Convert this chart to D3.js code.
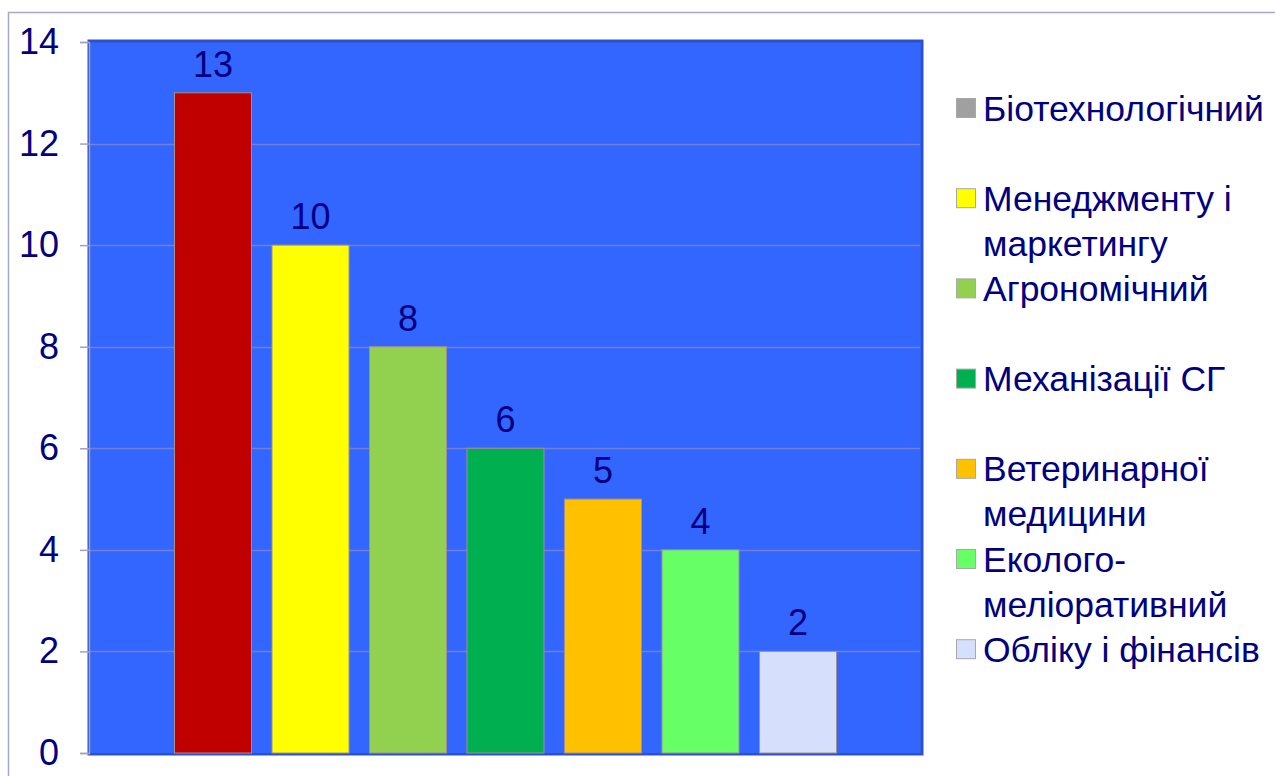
<!DOCTYPE html>
<html>
<head>
<meta charset="utf-8">
<script src="https://cdn.jsdelivr.net/npm/d3@7"></script>
<style>
  body { margin: 0; background: #fff; }
  svg { display: block; font-family: "Liberation Sans", Arial, sans-serif; }
</style>
</head>
<body>
<svg id="chart" width="1275" height="776"></svg>
<script>
// faculty names (legend order), bar values and colours
var faculties = ["Біотехнологічний", "Менеджменту і\nмаркетингу", "Агрономічний", "Механізації СГ",
                 "Ветеринарної\nмедицини", "Еколого-\nмеліоративний", "Обліку і фінансів"];
var values = [13, 10, 8, 6, 5, 4, 2];
var barColors = ["#C00000", "#FFFF00", "#92D050", "#00B050", "#FFC000", "#66FF66", "#D6E0FC"];
var legendColors = ["#A0A0A0", "#FFFF00", "#92D050", "#00B050", "#FFC000", "#66FF66", "#D6E0FC"];
var yTicks = [0, 2, 4, 6, 8, 10, 12, 14];

var svg = d3.select("#chart");
var textColor = "#000080";

var plot = { left: 89, right: 922, top: 42, bottom: 753 };

// outer frame of the chart object
svg.append("rect")
    .attr("x", 8.5).attr("y", 12.5)
    .attr("width", 1400).attr("height", 900)
    .attr("fill", "none")
    .attr("stroke", "#A8A8C8")
    .attr("stroke-width", 1.5);

var x = d3.scaleBand()
    .domain(d3.range(values.length))
    .range([plot.left, plot.right])
    .paddingInner(0.21)
    .paddingOuter(0.877);

var y = d3.scaleLinear()
    .domain([0, 14])
    .range([plot.bottom, plot.top]);

// plot background with darker rim
svg.append("rect")
    .attr("x", plot.left).attr("y", plot.top - 1)
    .attr("width", plot.right - plot.left).attr("height", plot.bottom - plot.top + 2)
    .attr("fill", "#3366FF")
    .attr("stroke", "#2E50C8")
    .attr("stroke-width", 3);
svg.append("rect")
    .attr("x", plot.left + 1.5).attr("y", plot.top + 1)
    .attr("width", plot.right - plot.left - 3).attr("height", plot.bottom - plot.top - 1)
    .attr("fill", "#3366FF");

// gridlines
svg.append("g").selectAll("line")
    .data(yTicks.filter(function(d){ return d > 0 && d < 14; }))
    .enter().append("line")
    .attr("x1", plot.left).attr("x2", plot.right - 2)
    .attr("y1", function(d){ return Math.round(y(d)) + 0.5; })
    .attr("y2", function(d){ return Math.round(y(d)) + 0.5; })
    .attr("stroke", "#6E80D8")
    .attr("stroke-width", 1.5);

// y axis
var yAxis = d3.axisLeft(y)
    .tickValues(yTicks)
    .tickSize(9)
    .tickPadding(21)
    .tickFormat(d3.format("d"));

var ay = svg.append("g")
    .attr("transform", "translate(" + plot.left + ",0)")
    .call(yAxis);
ay.select(".domain").attr("stroke", "#A0A0C4").attr("stroke-width", 1.5);
ay.selectAll(".tick line").attr("stroke", "#A0A0C4").attr("stroke-width", 1.5);
ay.selectAll(".tick text")
    .attr("fill", textColor)
    .style("font-size", "36px")
    .style("font-family", "Liberation Sans, Arial, sans-serif");

// bars
svg.append("g").selectAll("rect")
    .data(values)
    .enter().append("rect")
    .attr("x", function(d, i){ return x(i); })
    .attr("y", function(d){ return y(d); })
    .attr("width", x.bandwidth())
    .attr("height", function(d){ return y(0) - y(d); })
    .attr("fill", function(d, i){ return barColors[i]; })
    .attr("stroke", "#A09090")
    .attr("stroke-width", 1);

// value labels
svg.append("g").selectAll("text")
    .data(values)
    .enter().append("text")
    .attr("x", function(d, i){ return x(i) + x.bandwidth() / 2; })
    .attr("y", function(d){ return y(d) - 16; })
    .attr("text-anchor", "middle")
    .attr("fill", textColor)
    .style("font-size", "36px")
    .text(function(d){ return d; });

// legend
var legendTop = 108, legendStep = 90.2;
var legend = svg.append("g").selectAll("g")
    .data(faculties)
    .enter().append("g")
    .attr("transform", function(d, i){ return "translate(956," + (legendTop + i * legendStep) + ")"; });

legend.append("rect")
    .attr("x", 0.5).attr("y", -9.5)
    .attr("width", 19).attr("height", 19)
    .attr("fill", function(d, i){ return legendColors[i]; })
    .attr("stroke", "#A8A8A8")
    .attr("stroke-width", 1);

legend.append("text")
    .attr("x", 27)
    .attr("y", 12.5)
    .attr("fill", textColor)
    .style("font-size", "35.5px")
    .selectAll("tspan")
    .data(function(d){ return d.split("\n"); })
    .enter().append("tspan")
    .attr("x", 27)
    .attr("dy", function(d, i){ return i === 0 ? 0 : 45; })
    .text(function(d){ return d; });
</script>
</body>
</html>
